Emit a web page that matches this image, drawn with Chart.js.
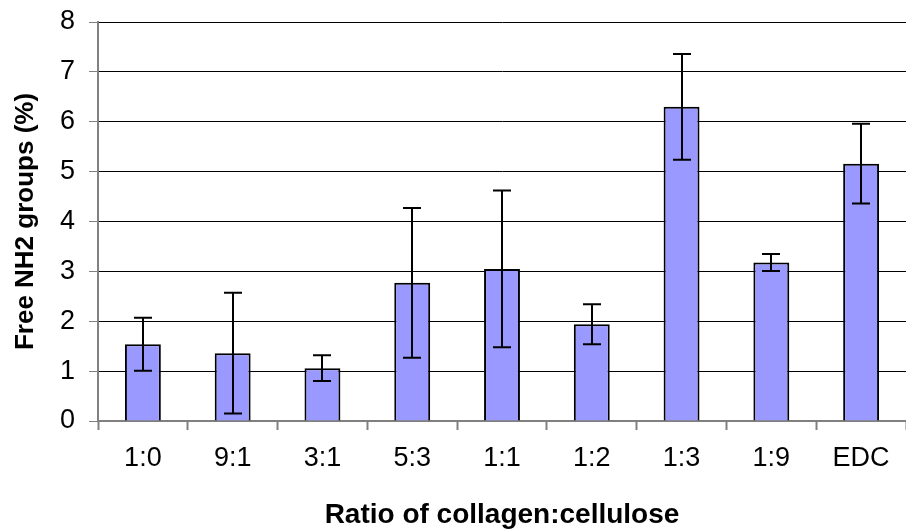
<!DOCTYPE html>
<html>
<head>
<meta charset="utf-8">
<script src="https://cdn.jsdelivr.net/npm/chart.js@4/dist/chart.umd.min.js"></script>
<style>
html,body{margin:0;padding:0;background:#fff;}
#wrap{width:906px;height:532px;position:relative;}
</style>
</head>
<body>
<div id="wrap"><canvas id="c" width="906" height="532"></canvas></div>
<script>
const categories = ['1:0', '9:1', '3:1', '5:3', '1:1', '1:2', '1:3', '1:9', 'EDC'];
const freeNH2 = [1.54, 1.36, 1.06, 2.77, 3.05, 1.94, 6.30, 3.18, 5.16];
const errorSD = [0.53, 1.21, 0.26, 1.50, 1.57, 0.40, 1.06, 0.17, 0.80];
const yTicks = [0, 1, 2, 3, 4, 5, 6, 7, 8];

const errorBars = {
  id: 'errorBars',
  afterDatasetsDraw(chart) {
    const ctx = chart.ctx;
    const meta = chart.getDatasetMeta(0);
    const ys = chart.scales.y;
    ctx.save();
    ctx.strokeStyle = '#000';
    ctx.lineWidth = 2;
    meta.data.forEach((el, i) => {
      const v = freeNH2[i], e = errorSD[i];
      const x = Math.round(el.x);
      const yt = ys.getPixelForValue(v + e);
      const yb = ys.getPixelForValue(v - e);
      ctx.beginPath();
      ctx.moveTo(x, yt); ctx.lineTo(x, yb);
      ctx.moveTo(x - 9, yt); ctx.lineTo(x + 9, yt);
      ctx.moveTo(x - 9, yb); ctx.lineTo(x + 9, yb);
      ctx.stroke();
    });
    ctx.restore();
  }
};

new Chart(document.getElementById('c'), {
  type: 'bar',
  data: {
    labels: categories,
    datasets: [{
      data: freeNH2,
      backgroundColor: '#9999FF',
      borderColor: '#000',
      borderWidth: 2,
      categoryPercentage: 1,
      barPercentage: 0.4
    }]
  },
  options: {
    responsive: false,
    animation: false,
    devicePixelRatio: 1,
    layout: { padding: { top: 22, right: -9, left: 0, bottom: 0 } },
    plugins: { legend: { display: false }, tooltip: { enabled: false } },
    scales: {
      x: {
        offset: true,
        grid: { display: true, drawOnChartArea: false, offset: true, tickLength: 9, tickColor: '#808080', tickWidth: 2 },
        border: { color: '#808080', width: 2 },
        ticks: { color: '#000', font: { family: 'Liberation Sans, Arial', size: 27 }, padding: 12, maxRotation: 0, autoSkip: false },
        title: { display: true, text: 'Ratio of collagen:cellulose', color: '#000', font: { family: 'Liberation Sans, Arial', size: 28, weight: 'bold' }, padding: { top: 0, bottom: 0 } },
        afterFit(s) { s.height = 111; s.paddingLeft = 0; s.paddingRight = 0; }
      },
      y: {
        min: 0, max: 8,
        afterBuildTicks(s) { s.ticks = yTicks.map(v => ({ value: v })); },
        grid: { color: '#000', lineWidth: 1, tickLength: 9, tickColor: '#808080', tickWidth: 1 },
        border: { color: '#808080', width: 2 },
        ticks: { color: '#000', font: { family: 'Liberation Sans, Arial', size: 27 }, padding: 14 },
        title: { display: true, text: 'Free NH2 groups (%)', color: '#000', font: { family: 'Liberation Sans, Arial', size: 26, weight: 'bold' }, padding: { top: 10, bottom: 0 } },
        afterFit(s) { s.width = 98; s.paddingTop = 0; s.paddingBottom = 0; }
      }
    }
  },
  plugins: [errorBars]
});
</script>
</body>
</html>
